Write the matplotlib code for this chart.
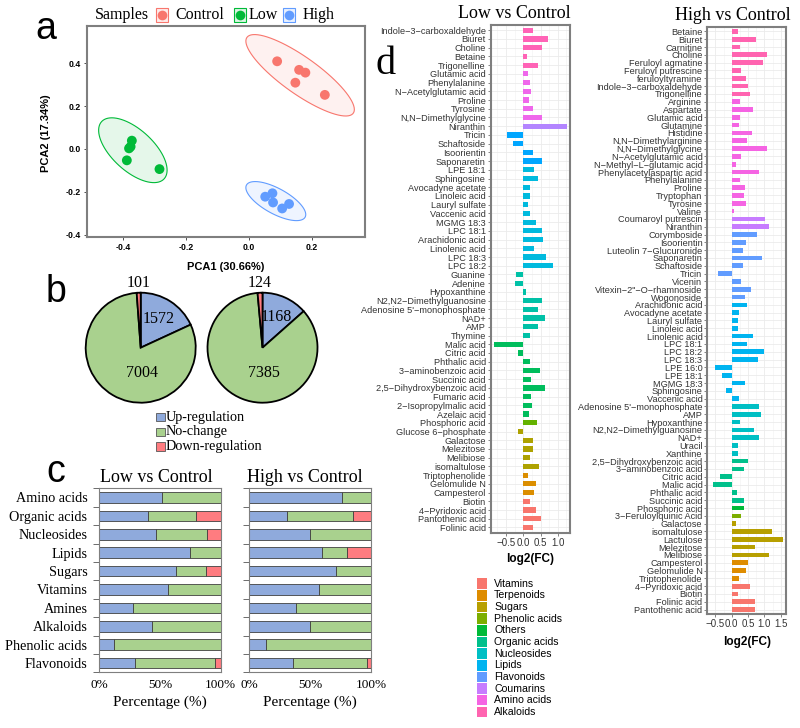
import numpy as np
import matplotlib
matplotlib.use("Agg")
import matplotlib.pyplot as plt
from matplotlib.patches import Rectangle, Polygon
from matplotlib.lines import Line2D

plt.rcParams['font.family'] = ['Liberation Sans', 'DejaVu Sans']
SERIF = 'Liberation Serif'
W, H = 800, 728

# ---------------- data ----------------
# a: PCA scores
pca_groups = ["Control", "Low", "High"]
pca_colors = ["#F8766D", "#00BA38", "#619CFF"]
pc1 = {"Control": [0.090, 0.160, 0.180, 0.148, 0.242],
       "Low": [-0.373, -0.377, -0.382, -0.389, -0.285],
       "High": [0.052, 0.075, 0.077, 0.106, 0.128]}
pc2 = {"Control": [0.410, 0.370, 0.357, 0.310, 0.253],
       "Low": [0.039, 0.011, 0.003, -0.053, -0.094],
       "High": [-0.223, -0.207, -0.250, -0.278, -0.257]}

# b: number of metabolites
reg_labels = ["Up-regulation", "No-change", "Down-regulation"]
reg_colors = ["#8FAADC", "#A9D18E", "#FF7C80"]
pie_low = [1572, 7004, 101]
pie_high = [1168, 7385, 124]

# c: percentages per class
c_classes = ["Amino acids", "Organic acids", "Nucleosides", "Lipids", "Sugars",
             "Vitamins", "Amines", "Alkaloids", "Phenolic acids", "Flavonoids"]
c_low_up = [52, 40, 47, 75, 63, 57, 27.5, 43, 12.5, 29.5]
c_low_nc = [48, 40, 41.5, 25, 24.5, 43, 72.5, 57, 87.5, 65.5]
c_low_dn = [0, 20, 11.5, 0, 12.5, 0, 0, 0, 0, 5]
c_high_up = [76.5, 31, 50, 60, 71.5, 57.5, 38, 50, 14, 35.5]
c_high_nc = [23.5, 54, 50, 20, 28.5, 42.5, 62, 50, 86, 61.5]
c_high_dn = [0, 15, 0, 20, 0, 0, 0, 0, 0, 3]

# d: log2 fold changes
d_legend = ["Vitamins", "Terpenoids", "Sugars", "Phenolic acids", "Others", "Organic acids",
            "Nucleosides", "Lipids", "Flavonoids", "Coumarins", "Amino acids", "Alkaloids"]
pal12 = ["#F8766D", "#DE8C00", "#B79F00", "#7CAE00", "#00BA38", "#00C08B",
         "#00BFC4", "#00B4F0", "#619CFF", "#C77CFF", "#F564E3", "#FF64B0"]
pal11 = ["#F8766D", "#DB8E00", "#AEA200", "#64B200", "#00BD5C", "#00C1A7",
         "#00BADE", "#00A6FF", "#B385FF", "#EF67EB", "#FF63B6"]

low_names = ["Indole-3-carboxaldehyde", "Biuret", "Choline", "Betaine", "Trigonelline",
             "Glutamic acid", "Phenylalanine", "N-Acetylglutamic acid", "Proline", "Tyrosine",
             "N,N-Dimethylglycine", "Niranthin", "Tricin", "Schaftoside", "Isoorientin", "Saponaretin",
             "LPE 18:1", "Sphingosine", "Avocadyne acetate", "Linoleic acid", "Lauryl sulfate",
             "Vaccenic acid", "MGMG 18:3", "LPC 18:1", "Arachidonic acid", "Linolenic acid",
             "LPC 18:3", "LPC 18:2", "Guanine", "Adenine", "Hypoxanthine",
             "N2,N2-Dimethylguanosine", "Adenosine 5'-monophosphate", "NAD+", "AMP", "Thymine",
             "Malic acid", "Citric acid", "Phthalic acid", "3-aminobenzoic acid", "Succinic acid",
             "2,5-Dihydroxybenzoic acid", "Fumaric acid", "2-Isopropylmalic acid", "Azelaic acid",
             "Phosphoric acid", "Glucose 6-phosphate", "Galactose", "Melezitose", "Melibiose",
             "isomaltulose", "Triptophenolide", "Gelomulide N", "Campesterol", "Biotin",
             "4-Pyridoxic acid", "Pantothenic acid", "Folinic acid"]
low_fc = [0.27, 0.73, 0.53, 0.12, 0.43,
          0.14, 0.20, 0.22, 0.17, 0.28,
          0.53, 1.27, -0.48, -0.29, 0.27, 0.54,
          0.30, 0.43, 0.19, 0.20, 0.14,
          0.19, 0.38, 0.54, 0.57, 0.30,
          0.65, 0.86, -0.21, -0.23, 0.08,
          0.53, 0.43, 0.62, 0.42, 0.18,
          -0.85, -0.14, 0.20, 0.47, 0.23,
          0.63, 0.22, 0.25, 0.16,
          0.40, -0.15, 0.27, 0.28, 0.19,
          0.45, 0.14, 0.37, 0.32, 0.18,
          0.37, 0.51, 0.27]
low_class = (["Alkaloids"] * 5 + ["Amino acids"] * 6 + ["Coumarins"] + ["Flavonoids"] * 4 +
             ["Lipids"] * 12 + ["Nucleosides"] * 8 + ["Organic acids"] * 9 + ["Phenolic acids"] +
             ["Sugars"] * 5 + ["Terpenoids"] * 3 + ["Vitamins"] * 4)

high_names = ["Betaine", "Biuret", "Carnitine", "Choline", "Feruloyl agmatine", "Feruloyl putrescine",
              "feruloyltyramine", "Indole-3-carboxaldehyde", "Trigonelline", "Arginine", "Aspartate",
              "Glutamic acid", "Glutamine", "Histidine", "N,N-Dimethylarginine", "N,N-Dimethylglycine",
              "N-Acetylglutamic acid", "N-Methyl-L-glutamic acid", "Phenylacetylaspartic acid",
              "Phenylalanine", "Proline", "Tryptophan", "Tyrosine", "Valine", "Coumaroyl putrescin",
              "Niranthin", "Corymboside", "Isoorientin", "Luteolin 7-Glucuronide", "Saponaretin",
              "Schaftoside", "Tricin", "Vicenin", "Vitexin-2\"-O-rhamnoside", "Wogonoside",
              "Arachidonic acid", "Avocadyne acetate", "Lauryl sulfate", "Linoleic acid",
              "Linolenic acid", "LPC 18:1", "LPC 18:2", "LPC 18:3", "LPE 16:0", "LPE 18:1",
              "MGMG 18:3", "Sphingosine", "Vaccenic acid", "Adenosine 5'-monophosphate", "AMP",
              "Hypoxanthine", "N2,N2-Dimethylguanosine", "NAD+", "Uracil", "Xanthine",
              "2,5-Dihydroxybenzoic acid", "3-aminobenzoic acid", "Citric acid", "Malic acid",
              "Phthalic acid", "Succinic acid", "Phosphoric acid", "3-Feruloylquinic Acid",
              "Galactose", "isomaltulose", "Lactulose", "Melezitose", "Melibiose", "Campesterol",
              "Gelomulide N", "Triptophenolide", "4-Pyridoxic acid", "Biotin", "Folinic acid",
              "Pantothenic acid"]
high_fc = [0.18, 0.75, 0.25, 1.08, 0.96, 0.29,
           0.44, 0.49, 0.56, 0.25, 0.64,
           0.24, 0.21, 0.63, 0.45, 1.09,
           0.28, 0.13, 0.83,
           0.26, 0.40, 0.36, 0.44, 0.07, 1.03,
           1.14, 0.78, 0.42, 0.34, 0.91,
           0.33, -0.41, 0.27, 0.58, 0.39,
           0.47, 0.23, 0.20, 0.19,
           0.66, 0.46, 1.00, 0.79, -0.50, -0.29,
           0.39, -0.17, 0.22, 0.83, 0.88,
           0.24, 0.69, 0.84, 0.20, 0.18,
           0.51, 0.38, -0.37, -0.57,
           0.17, 0.38, 0.37, 0.28,
           0.14, 1.24, 1.56, 0.71, 1.13, 0.51,
           0.44, 0.22, 0.55, 0.20, 0.72,
           0.71]
high_class = (["Alkaloids"] * 9 + ["Amino acids"] * 15 + ["Coumarins"] * 2 + ["Flavonoids"] * 9 +
              ["Lipids"] * 13 + ["Nucleosides"] * 7 + ["Organic acids"] * 6 + ["Others"] +
              ["Phenolic acids"] + ["Sugars"] * 5 + ["Terpenoids"] * 3 + ["Vitamins"] * 4)


def fbox(x0, y0, x1, y1):
    # pixel box (top-left origin) -> figure fraction rect
    return [x0 / W, 1 - y1 / H, (x1 - x0) / W, (y1 - y0) / H]


def trob_ellipse(x, y, level=0.95, nu=5, maxit=25, tol=0.01, seg=80):
    # robust t ellipse as in ggplot2::stat_ellipse (MASS::cov.trob)
    pts = np.column_stack([x, y])
    n, p = pts.shape
    loc = pts.mean(axis=0)
    w = np.ones(n)
    for _ in range(maxit):
        w0 = w
        X = pts - loc
        _, d, vt = np.linalg.svd(np.sqrt(w / w.sum())[:, None] * X, full_matrices=False)
        wX = X @ vt.T @ np.diag(1 / d)
        Q = (wX ** 2).sum(axis=1)
        w = (nu + p) / (nu + Q)
        loc = (w[:, None] * pts).sum(axis=0) / w.sum()
        if np.all(np.abs(w - w0) < tol):
            break
    sX = np.sqrt(w)[:, None] * X
    cov = sX.T @ sX / n
    U = np.linalg.cholesky(cov).T
    dfd = n - 1
    fq = dfd / 2 * ((1 - level) ** (-2 / dfd) - 1)
    radius = np.sqrt(2 * fq)
    ang = np.linspace(0, 2 * np.pi, seg)
    circ = np.column_stack([np.cos(ang), np.sin(ang)])
    return loc + radius * circ @ U


fig = plt.figure(figsize=(W / 100, H / 100), dpi=100)

# ---------------- a ----------------
ax = fig.add_axes(fbox(87.3, 26, 365, 236.7))
for g, col in zip(pca_groups, pca_colors):
    el = trob_ellipse(pc1[g], pc2[g])
    ax.add_patch(Polygon(el, closed=True, facecolor=col, alpha=0.1, edgecolor='none'))
    ax.add_patch(Polygon(el, closed=True, facecolor='none', edgecolor=col, lw=0.8))
    ax.scatter(pc1[g], pc2[g], s=50, color=col, edgecolor='none', zorder=3)
ax.set_xlim(-0.515, 0.37)
ax.set_ylim(-0.41, 0.575)
ax.set_xticks([-0.4, -0.2, 0.0, 0.2])
ax.set_yticks([-0.4, -0.2, 0.0, 0.2, 0.4])
ax.xaxis.set_major_formatter(matplotlib.ticker.FormatStrFormatter('%.1f'))
ax.yaxis.set_major_formatter(matplotlib.ticker.FormatStrFormatter('%.1f'))
ax.tick_params(labelsize=6.3, length=2.5, width=0.6, color='#333333', pad=2)
for lab in ax.get_xticklabels() + ax.get_yticklabels():
    lab.set_fontweight('bold')
for s in ax.spines.values():
    s.set_color('#7f7f7f')
    s.set_linewidth(1.5)
fig.text(45.7 / W, 1 - 133 / H, "PCA2 (17.34%)", rotation=90, ha='center', va='center',
         fontsize=8, fontweight='bold')
fig.text(226 / W, 1 - 267 / H, "PCA1 (30.66%)", ha='center', va='center',
         fontsize=8, fontweight='bold')
# legend on top
fig.text(95 / W, 1 - 15 / H, "Samples", ha='left', va='center', fontsize=11.5, family=SERIF)
for g, col, kx, tx in zip(pca_groups, pca_colors, [161.5, 239.5, 288.5], [175, 249, 303]):
    fig.add_artist(Rectangle(((kx - 6) / W, 1 - 21.5 / H), 12 / W, 13 / H, transform=fig.transFigure,
                             facecolor=col + '22', edgecolor=col, lw=0.8))
    fig.add_artist(Line2D([kx / W], [1 - 15 / H], marker='o', markersize=7, color=col,
                          markeredgecolor='none', transform=fig.transFigure))
    fig.text(tx / W, 1 - 15 / H, g, ha='left', va='center', fontsize=11.5, family=SERIF)

# ---------------- b ----------------
for vals, cx in [(pie_low, 140.7), (pie_high, 262.5)]:
    axp = fig.add_axes(fbox(cx - 60.5, 347.7 - 60.5, cx + 60.5, 347.7 + 60.5))
    wedges, _ = axp.pie(vals, colors=reg_colors, startangle=90, counterclock=False,
                        wedgeprops=dict(edgecolor='black', linewidth=1.3))
    axp.set_xlim(-1.1, 1.1)
    axp.set_ylim(-1.1, 1.1)
    axp.axis('off')
    th = np.deg2rad((wedges[0].theta1 + wedges[0].theta2) / 2)
    axp.text(0.62 * np.cos(th), 0.62 * np.sin(th), str(vals[0]), ha='center', va='center',
             fontsize=11.5, family=SERIF)
    axp.text(0.03, -0.46, str(vals[1]), ha='center', va='center', fontsize=11.5, family=SERIF)
    th = np.deg2rad((wedges[2].theta1 + wedges[2].theta2) / 2)
    axp.text(1.18 * np.cos(th), 1.18 * np.sin(th), str(vals[2]), ha='center', va='center',
             fontsize=11.5, family=SERIF)
for i, (lab, col) in enumerate(zip(reg_labels, reg_colors)):
    yc = 417 + i * 14.8
    fig.add_artist(Rectangle((156 / W, 1 - (yc + 4.3) / H), 8.5 / W, 8.5 / H,
                             transform=fig.transFigure, facecolor=col, edgecolor='#555555', lw=0.6))
    fig.text(166 / W, 1 - yc / H, lab, ha='left', va='center', fontsize=10.2, family=SERIF)

# ---------------- c ----------------
for k, (up, nc, dn, x0, x1, title, tcx) in enumerate([
        (c_low_up, c_low_nc, c_low_dn, 99.3, 220.7, "Low vs Control", 156.7),
        (c_high_up, c_high_nc, c_high_dn, 249.3, 371, "High vs Control", 304.5)]):
    axc = fig.add_axes(fbox(x0, 488.3, x1, 672.3))
    y = np.arange(len(c_classes))
    up, nc, dn = np.array(up), np.array(nc), np.array(dn)
    kw = dict(height=0.57, edgecolor='#404040', linewidth=0.6)
    axc.barh(y, up, color=reg_colors[0], **kw)
    axc.barh(y, nc, left=up, color=reg_colors[1], **kw)
    axc.barh(y, dn, left=up + nc, color=reg_colors[2], **kw)
    axc.set_ylim(9.5, -0.5)
    axc.set_xlim(0, 100)
    axc.set_yticks(y)
    axc.set_yticks(np.arange(-0.5, 10, 1), minor=True)
    axc.tick_params(axis='y', which='major', length=0, pad=8.5)
    axc.tick_params(axis='y', which='minor', length=4, width=0.6, color='#555555')
    axc.set_yticklabels(c_classes if k == 0 else [], fontsize=10.2, family=SERIF)
    axc.set_xticks([0, 50, 100])
    axc.set_xticklabels(['0%', '50%', '100%'], fontsize=9.5, family=SERIF)
    axc.tick_params(axis='x', length=0, pad=5)
    for s in axc.spines.values():
        s.set_color('#7f7f7f')
        s.set_linewidth(0.8)
    axc.set_xlabel("Percentage (%)", fontsize=11, family=SERIF, labelpad=3)
    fig.text(tcx / W, 1 - 477 / H, title, ha='center', va='center', fontsize=13, family=SERIF)

# ---------------- d ----------------
for names, fc, cls, order, pal, box, xlim, xt, title, tpos, xlpos in [
        (low_names, low_fc, low_class, [c for c in d_legend if c != "Others"], pal11,
         (490.7, 25, 570, 532.7), (-0.945, 1.354), [-0.5, 0.0, 0.5, 1.0],
         "Low vs Control", (514.7, 13), (530, 559)),
        (high_names, high_fc, high_class, d_legend, pal12,
         (707.3, 26.7, 786, 614.3), (-0.685, 1.658), [-0.5, 0.0, 0.5, 1.0, 1.5],
         "High vs Control", (733.3, 15), (747, 642))]:
    axd = fig.add_axes(fbox(*box))
    cmap = dict(zip(order, pal))
    y = np.arange(len(names))
    axd.barh(y, fc, height=0.6, color=[cmap[c] for c in cls], zorder=2)
    axd.set_ylim(len(names) - 0.4, -0.6)
    axd.set_xlim(*xlim)
    axd.set_yticks(y)
    axd.set_yticklabels([n.replace('-', '\u2212') for n in names], fontsize=6.6, color='#333333')
    axd.set_xticks(xt)
    axd.set_xticklabels([f"{v:.1f}".replace('-', '\u2212') for v in xt], fontsize=7, color='#333333')
    axd.set_xticks(np.arange(-0.75, xlim[1], 0.5), minor=True)
    axd.tick_params(which='minor', length=0)
    axd.tick_params(which='major', length=2, width=0.5, color='#555555', pad=1.5)
    axd.grid(True, which='major', color='#ebebeb', lw=0.6, zorder=0)
    axd.grid(True, which='minor', axis='x', color='#f2f2f2', lw=0.4, zorder=0)
    axd.set_axisbelow(True)
    for s in axd.spines.values():
        s.set_color('#7f7f7f')
        s.set_linewidth(1.5)
    fig.text(tpos[0] / W, 1 - tpos[1] / H, title, ha='center', va='center', fontsize=13, family=SERIF)
    fig.text(xlpos[0] / W, 1 - xlpos[1] / H, "log2(FC)", ha='center', va='center',
             fontsize=8.5, fontweight='bold')

# legend of d
for i, (lab, col) in enumerate(zip(d_legend, pal12)):
    yc = 583.8 + i * 11.64
    fig.add_artist(Rectangle((476.7 / W, 1 - (yc + 5.3) / H), 10.8 / W, 10.6 / H,
                             transform=fig.transFigure, facecolor=col, edgecolor='none'))
    fig.text(494 / W, 1 - yc / H, lab, ha='left', va='center', fontsize=7.6)

# panel letters
fig.text(46 / W, 1 - 29 / H, "a", ha='center', va='center', fontsize=27)
fig.text(56 / W, 1 - 292 / H, "b", ha='center', va='center', fontsize=27)
fig.text(56 / W, 1 - 472 / H, "c", ha='center', va='center', fontsize=27)
fig.text(386 / W, 1 - 64 / H, "d", ha='center', va='center', fontsize=29, family=SERIF)

fig.savefig("out.png", dpi=100)
